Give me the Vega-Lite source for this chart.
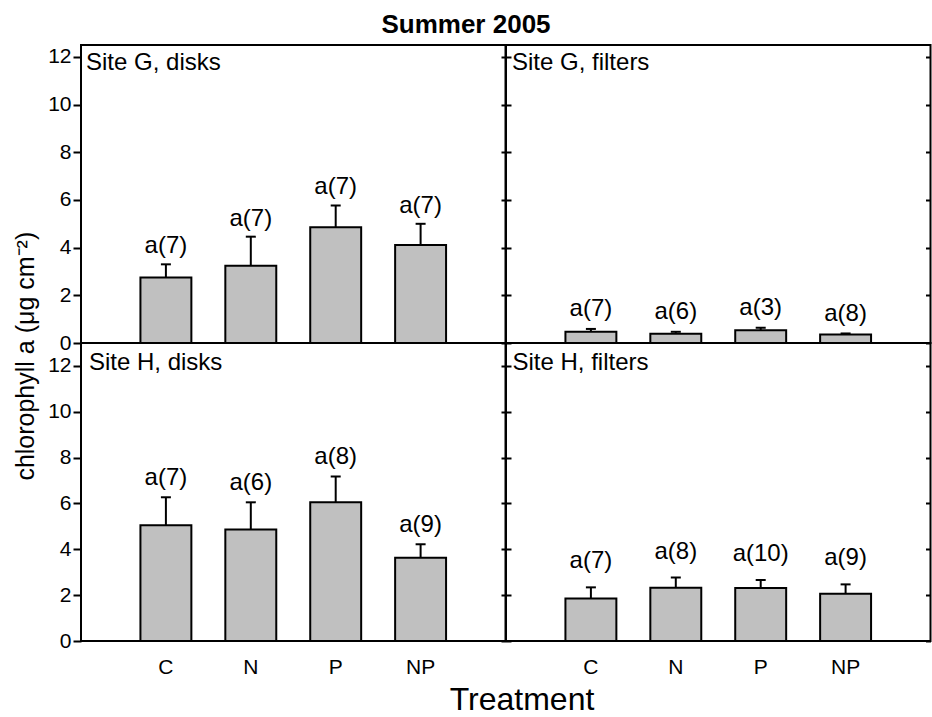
{
  "$schema": "https://vega.github.io/schema/vega-lite/v6.json",
  "padding": {"left": 12, "top": 10, "right": 0, "bottom": 0},
  "bounds": "flush",
  "spacing": 0,
  "columns": 2,
  "config": {
    "font": "Liberation Sans",
    "view": {"stroke": "black", "strokeWidth": 2},
    "axis": {
      "domain": false,
      "grid": false,
      "labelFont": "Liberation Sans",
      "titleFont": "Liberation Sans",
      "labelColor": "black",
      "titleColor": "black",
      "tickColor": "black",
      "tickWidth": 2,
      "titleFontWeight": "normal"
    }
  },
  "datasets": {
    "chl": [
      {"site": "G", "substrate": "disks", "treatment": "C", "mean": 2.75, "upper": 3.30, "label": "a(7)"},
      {"site": "G", "substrate": "disks", "treatment": "N", "mean": 3.24, "upper": 4.46, "label": "a(7)"},
      {"site": "G", "substrate": "disks", "treatment": "P", "mean": 4.86, "upper": 5.77, "label": "a(7)"},
      {"site": "G", "substrate": "disks", "treatment": "NP", "mean": 4.11, "upper": 5.00, "label": "a(7)"},
      {"site": "G", "substrate": "filters", "treatment": "C", "mean": 0.47, "upper": 0.59, "label": "a(7)"},
      {"site": "G", "substrate": "filters", "treatment": "N", "mean": 0.39, "upper": 0.47, "label": "a(6)"},
      {"site": "G", "substrate": "filters", "treatment": "P", "mean": 0.53, "upper": 0.64, "label": "a(3)"},
      {"site": "G", "substrate": "filters", "treatment": "NP", "mean": 0.36, "upper": 0.40, "label": "a(8)"},
      {"site": "H", "substrate": "disks", "treatment": "C", "mean": 5.05, "upper": 6.27, "label": "a(7)"},
      {"site": "H", "substrate": "disks", "treatment": "N", "mean": 4.86, "upper": 6.05, "label": "a(6)"},
      {"site": "H", "substrate": "disks", "treatment": "P", "mean": 6.05, "upper": 7.18, "label": "a(8)"},
      {"site": "H", "substrate": "disks", "treatment": "NP", "mean": 3.63, "upper": 4.22, "label": "a(9)"},
      {"site": "H", "substrate": "filters", "treatment": "C", "mean": 1.85, "upper": 2.34, "label": "a(7)"},
      {"site": "H", "substrate": "filters", "treatment": "N", "mean": 2.32, "upper": 2.77, "label": "a(8)"},
      {"site": "H", "substrate": "filters", "treatment": "P", "mean": 2.31, "upper": 2.66, "label": "a(10)"},
      {"site": "H", "substrate": "filters", "treatment": "NP", "mean": 2.06, "upper": 2.47, "label": "a(9)"}
    ]
  },
  "concat": [
    {
      "width": 424.5,
      "height": 298,
      "data": {"name": "chl"},
      "transform": [{"filter": "datum.site === 'G' && datum.substrate === 'disks'"}],
      "encoding": {
        "x": {"field": "treatment", "type": "nominal", "sort": ["C", "N", "P", "NP"], "scale": {"paddingInner": 0.4, "paddingOuter": 0.7},
          "axis": {"orient": "top", "labels": false, "ticks": false, "title": "Site G, disks", "titleFontSize": 24,
            "titleAlign": "left", "titleBaseline": "alphabetic", "titleX": 4.5, "titleY": 24}}
      },
      "layer": [
        {
          "mark": {"type": "rule", "color": "black", "strokeWidth": 2},
          "encoding": {
            "y": {"field": "mean", "type": "quantitative", "title": "chlorophyll a (μg cm⁻²)", "scale": {"domain": [0, 12.5], "nice": false, "zero": true},
              "axis": {"orient": "left", "values": [0, 2, 4, 6, 8, 10, 12], "tickSize": 8, "labelPadding": 2, "labelFontSize": 21,
                "titleFontSize": 25, "titleAngle": -90, "titleAlign": "center", "titleBaseline": "alphabetic", "titleX": -47.5, "titleY": 310.7}},
            "y2": {"field": "upper"}
          }
        },
        {
          "mark": {"type": "bar", "fill": "#c0c0c0", "stroke": "black", "strokeWidth": 2},
          "encoding": {"y": {"field": "mean", "type": "quantitative"}}
        },
        {
          "mark": {"type": "tick", "color": "black", "size": 10, "thickness": 2, "opacity": 1},
          "encoding": {"y": {"field": "upper", "type": "quantitative"}}
        },
        {
          "mark": {"type": "text", "fontSize": 24, "color": "black", "align": "center", "baseline": "alphabetic", "dy": -11},
          "encoding": {"y": {"field": "upper", "type": "quantitative"}, "text": {"field": "label"}}
        }
      ]
    },
    {
      "width": 424.5,
      "height": 298,
      "data": {"name": "chl"},
      "transform": [{"filter": "datum.site === 'G' && datum.substrate === 'filters'"}],
      "encoding": {
        "x": {"field": "treatment", "type": "nominal", "sort": ["C", "N", "P", "NP"], "scale": {"paddingInner": 0.4, "paddingOuter": 0.7},
          "axis": {"orient": "top", "labels": false, "ticks": false, "title": "Summer 2005", "titleFontSize": 26, "titleFontWeight": "bold",
            "titleAlign": "center", "titleBaseline": "alphabetic", "titleX": -40.5, "titleY": -12.3}}
      },
      "resolve": {"scale": {"y": "shared"}, "axis": {"y": "independent"}},
      "layer": [
        {
          "mark": {"type": "rule", "color": "black", "strokeWidth": 2},
          "encoding": {
            "y": {"field": "mean", "type": "quantitative", "title": "Site G, filters", "scale": {"domain": [0, 12.5], "nice": false, "zero": true},
              "axis": {"orient": "left", "values": [0, 2, 4, 6, 8, 10, 12], "tickSize": 10, "offset": -5, "labels": false,
                "titleFontSize": 24, "titleAngle": 0, "titleAlign": "left", "titleBaseline": "alphabetic", "titleX": 0.5, "titleY": 24}},
            "y2": {"field": "upper"}
          }
        },
        {
          "mark": {"type": "bar", "fill": "#c0c0c0", "stroke": "black", "strokeWidth": 2},
          "encoding": {"y": {"field": "mean", "type": "quantitative", "title": null,
            "axis": {"orient": "right", "values": [0, 2, 4, 6, 8, 10, 12], "tickSize": 5, "offset": -5, "labels": false}}}
        },
        {
          "mark": {"type": "tick", "color": "black", "size": 10, "thickness": 2, "opacity": 1},
          "encoding": {"y": {"field": "upper", "type": "quantitative", "axis": null}}
        },
        {
          "mark": {"type": "text", "fontSize": 24, "color": "black", "align": "center", "baseline": "alphabetic", "dy": -12.5},
          "encoding": {"y": {"field": "upper", "type": "quantitative", "axis": null}, "text": {"field": "label"}}
        }
      ]
    },
    {
      "width": 424.5,
      "height": 298,
      "data": {"name": "chl"},
      "transform": [{"filter": "datum.site === 'H' && datum.substrate === 'disks'"}],
      "encoding": {
        "x": {"field": "treatment", "type": "nominal", "sort": ["C", "N", "P", "NP"], "scale": {"paddingInner": 0.4, "paddingOuter": 0.7},
          "axis": {"orient": "bottom", "tickSize": 0, "labelAngle": 0, "labelFontSize": 21, "labelBaseline": "alphabetic", "labelPadding": 32,
            "title": "Treatment", "titleFontSize": 32, "titleAlign": "center", "titleBaseline": "alphabetic", "titleX": 440.5, "titleY": 68.5}}
      },
      "layer": [
        {
          "mark": {"type": "rule", "color": "black", "strokeWidth": 2},
          "encoding": {
            "y": {"field": "mean", "type": "quantitative", "title": "Site H, disks", "scale": {"domain": [0, 13], "nice": false, "zero": true},
              "axis": {"orient": "left", "values": [0, 2, 4, 6, 8, 10, 12], "tickSize": 8, "labelPadding": 2, "labelFontSize": 21,
                "titleFontSize": 24, "titleAngle": 0, "titleAlign": "left", "titleBaseline": "alphabetic", "titleX": 7.5, "titleY": 26}},
            "y2": {"field": "upper"}
          }
        },
        {
          "mark": {"type": "bar", "fill": "#c0c0c0", "stroke": "black", "strokeWidth": 2},
          "encoding": {"y": {"field": "mean", "type": "quantitative"}}
        },
        {
          "mark": {"type": "tick", "color": "black", "size": 10, "thickness": 2, "opacity": 1},
          "encoding": {"y": {"field": "upper", "type": "quantitative"}}
        },
        {
          "mark": {"type": "text", "fontSize": 24, "color": "black", "align": "center", "baseline": "alphabetic", "dy": -12.5},
          "encoding": {"y": {"field": "upper", "type": "quantitative"}, "text": {"field": "label"}}
        }
      ]
    },
    {
      "width": 424.5,
      "height": 298,
      "data": {"name": "chl"},
      "transform": [{"filter": "datum.site === 'H' && datum.substrate === 'filters'"}],
      "encoding": {
        "x": {"field": "treatment", "type": "nominal", "sort": ["C", "N", "P", "NP"], "scale": {"paddingInner": 0.4, "paddingOuter": 0.7},
          "axis": {"orient": "bottom", "tickSize": 0, "labelAngle": 0, "labelFontSize": 21, "labelBaseline": "alphabetic", "labelPadding": 32, "title": null}}
      },
      "resolve": {"scale": {"y": "shared"}, "axis": {"y": "independent"}},
      "layer": [
        {
          "mark": {"type": "rule", "color": "black", "strokeWidth": 2},
          "encoding": {
            "y": {"field": "mean", "type": "quantitative", "title": "Site H, filters", "scale": {"domain": [0, 13], "nice": false, "zero": true},
              "axis": {"orient": "left", "values": [0, 2, 4, 6, 8, 10, 12], "tickSize": 10, "offset": -5, "labels": false,
                "titleFontSize": 24, "titleAngle": 0, "titleAlign": "left", "titleBaseline": "alphabetic", "titleX": 1, "titleY": 26}},
            "y2": {"field": "upper"}
          }
        },
        {
          "mark": {"type": "bar", "fill": "#c0c0c0", "stroke": "black", "strokeWidth": 2},
          "encoding": {"y": {"field": "mean", "type": "quantitative", "title": null,
            "axis": {"orient": "right", "values": [0, 2, 4, 6, 8, 10, 12], "tickSize": 5, "offset": -5, "labels": false}}}
        },
        {
          "mark": {"type": "tick", "color": "black", "size": 10, "thickness": 2, "opacity": 1},
          "encoding": {"y": {"field": "upper", "type": "quantitative", "axis": null}}
        },
        {
          "mark": {"type": "text", "fontSize": 24, "color": "black", "align": "center", "baseline": "alphabetic", "dy": -19},
          "encoding": {"y": {"field": "upper", "type": "quantitative", "axis": null}, "text": {"field": "label"}}
        }
      ]
    }
  ]
}
